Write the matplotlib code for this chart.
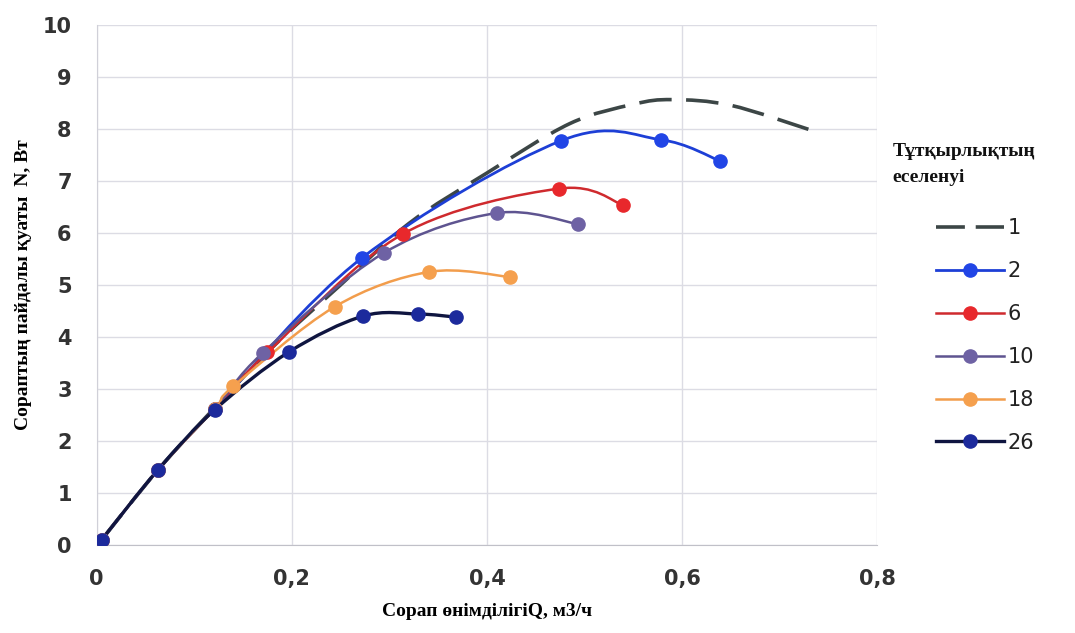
import matplotlib.pyplot as plt
import numpy as np
from matplotlib.lines import Line2D
from matplotlib.patches import PathPatch
from matplotlib.path import Path

# values
labels = ["1", "2", "6", "10", "18", "26"]

q1 = [0.005, 0.063, 0.12, 0.18, 0.25, 0.32, 0.40, 0.485, 0.55, 0.59, 0.65, 0.731]
n1 = [0.10, 1.45, 2.62, 3.80, 5.00, 6.18, 7.15, 8.10, 8.47, 8.56, 8.45, 7.98]

q2 = [0.005, 0.063, 0.121, 0.272, 0.476, 0.578, 0.639]
n2 = [0.10, 1.45, 2.62, 5.52, 7.77, 7.79, 7.38]

q6 = [0.005, 0.063, 0.121, 0.175, 0.314, 0.474, 0.539]
n6 = [0.10, 1.45, 2.62, 3.70, 5.98, 6.85, 6.54]

q10 = [0.005, 0.063, 0.121, 0.170, 0.294, 0.410, 0.493]
n10 = [0.10, 1.45, 2.62, 3.69, 5.61, 6.38, 6.17]

q18 = [0.005, 0.063, 0.121, 0.140, 0.244, 0.341, 0.424]
n18 = [0.10, 1.45, 2.62, 3.05, 4.58, 5.25, 5.15]

q26 = [0.005, 0.063, 0.121, 0.197, 0.273, 0.329, 0.368]
n26 = [0.10, 1.45, 2.60, 3.71, 4.40, 4.44, 4.38]

x_ticks = [0, 0.2, 0.4, 0.6, 0.8]
x_tick_labels = ["0", "0,2", "0,4", "0,6", "0,8"]
y_ticks = list(range(0, 11))

line_colors = ["#3c4646", "#1d3fd6", "#cf2a2e", "#5e5490", "#f29d4c", "#0f1540"]
marker_colors = [None, "#2145e6", "#e8282c", "#6e62a4", "#f5a04e", "#1c2a9c"]


def smooth_path(xs, ys, t=1 / 6):
    # Excel-style smoothed line: Catmull-Rom turned into cubic Bezier segments
    pts = np.column_stack([xs, ys])
    verts = [pts[0]]
    codes = [Path.MOVETO]
    for i in range(len(pts) - 1):
        p0 = pts[i - 1] if i > 0 else pts[i]
        p1, p2 = pts[i], pts[i + 1]
        p3 = pts[i + 2] if i + 2 < len(pts) else pts[i + 1]
        c1 = p1 + (p2 - p0) * t
        c2 = p2 - (p3 - p1) * t
        verts += [c1, c2, p2]
        codes += [Path.CURVE4] * 3
    return Path(verts, codes)


fig = plt.figure(figsize=(10.75, 6.33), dpi=100)
ax = fig.add_axes([0.090, 0.139, 0.726, 0.822])

series = [(q1, n1), (q2, n2), (q6, n6), (q10, n10), (q18, n18), (q26, n26)]
widths = [2.6, 2.0, 1.8, 1.8, 1.8, 2.4]
handles = []
for i, (q, n) in enumerate(series):
    dashes = (9, 4) if i == 0 else None
    patch = PathPatch(smooth_path(q, n), fill=False, edgecolor=line_colors[i],
                      lw=widths[i], zorder=3 + i * 0.1, capstyle="butt")
    if dashes:
        patch.set_linestyle((0, dashes))
    ax.add_patch(patch)
    if i == 0:
        handles.append(Line2D([], [], color=line_colors[i], lw=widths[i],
                              dashes=(8, 3), dash_capstyle="butt"))
    else:
        ax.plot(q, n, "o", color=marker_colors[i], ms=9.5, mec=marker_colors[i],
                zorder=5 + i * 0.1)
        handles.append(Line2D([], [], color=line_colors[i], lw=widths[i], marker="o",
                              ms=9.5, mfc=marker_colors[i], mec=marker_colors[i]))

ax.set_xlim(0, 0.8)
ax.set_ylim(0, 10)
ax.set_xticks(x_ticks)
ax.set_xticklabels(x_tick_labels)
ax.set_yticks(y_ticks)
ax.tick_params(length=0, labelsize=15, labelcolor="#333333")
ax.tick_params(axis="x", pad=17)
ax.tick_params(axis="y", pad=18)
for lab in ax.get_xticklabels() + ax.get_yticklabels():
    lab.set_fontweight("bold")
ax.grid(True, color="#dcdce4", lw=1)
ax.set_axisbelow(True)
for side in ["top", "right"]:
    ax.spines[side].set_visible(False)
ax.spines["left"].set_color("#d0d0d8")
ax.spines["bottom"].set_color("#c0c0c8")

ax.set_xlabel("Сорап өнімділігіQ, м3/ч", fontsize=14, fontweight="bold",
              family="Liberation Serif", labelpad=10)
ax.set_ylabel("Сорaптың пайдалы қуаты  N, Вт", fontsize=14, fontweight="bold",
              family="Liberation Serif", labelpad=8)

fig.text(0.830, 0.740, "Тұтқырлықтың\nеселенуі", family="Liberation Serif",
         fontweight="bold", fontsize=14, linespacing=1.75, va="center", ha="left",
         color="#111111")
leg = fig.legend(handles, labels, loc="upper left", bbox_to_anchor=(0.853, 0.685),
                 frameon=False, handlelength=3.3, handletextpad=0.15,
                 labelspacing=1.1, fontsize=15)
for txt in leg.get_texts():
    txt.set_color("#222222")

fig.savefig("out.png", dpi=100)
